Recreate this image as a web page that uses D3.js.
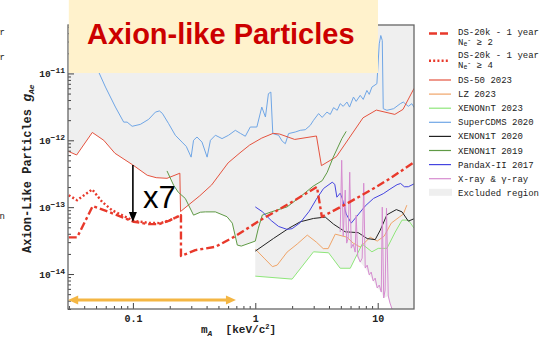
<!DOCTYPE html>
<html>
<head>
<meta charset="utf-8">
<script src="https://cdn.jsdelivr.net/npm/d3@7"></script>
<style>
  body { margin: 0; background: #fff; }
  svg { display: block; font-family: "Liberation Mono", "DejaVu Sans Mono", monospace; }
</style>
</head>
<body>
<svg id="chart" width="539" height="346"></svg>
<script>
// ---- data: [mass keV/c^2, g_Ae] ----
var ds20kNe2 = [[0.0299,3.53e-14],[0.035,3.53e-14],[0.047,1.04e-13],[0.0634,8.5e-14],[0.0869,6.78e-14],
  [0.1016,6.04e-14],[0.1346,5.57e-14],[0.1625,5.57e-14],[0.196,6.25e-14],[0.247,7.6e-14],[0.247,1.86e-14],
  [0.324,2.28e-14],[0.472,2.55e-14],[0.69,3.7e-14],[1.1,6.4e-14],[1.86,1.11e-13],[3.19,2.01e-13],
  [3.5,7.16e-14],[5.6,1.13e-13],[9.24,1.9e-13],[12.6,2.68e-13],[20,4.74e-13]];

var ds20kNe4 = [[0.0299,1.51e-13],[0.035,1.27e-13],[0.0465,1.84e-13],[0.0561,1.2e-13],[0.0676,9.0e-14],
  [0.0869,7.16e-14],[0.1016,6.25e-14],[0.1346,5.83e-14],[0.168,5.77e-14],[0.202,6.4e-14],[0.247,7.6e-14]];

var ds50 = [[0.0296,6.86e-13],[0.0347,6.03e-13],[0.0466,1.31e-12],[0.0578,1.0e-12],[0.0713,6.4e-13],
  [0.1,4.27e-13],[0.131,3.0e-13],[0.155,2.76e-13],[0.19,2.7e-13],[0.242,3.22e-13],[0.245,8.6e-14],
  [0.292,1.12e-13],[0.352,1.48e-13],[0.44,2.15e-13],[0.6,4.6e-13],[0.75,6.5e-13],[0.9,8.5e-13],
  [1.13,1.08e-12],[1.4,1.27e-12],[1.58,1.24e-12],[2.1,1.03e-12],[3.16,1.16e-12],[3.47,4.18e-13],
  [4.6,5.69e-13],[7.59,2.17e-12],[9.75,2.83e-12],[13.8,2.44e-12],[16.1,2.9e-12],[19.8,5.97e-12]];

var lz2023 = [[1.0,2.36e-14],[1.18,1.73e-14],[1.38,1.29e-14],[1.51,1.36e-14],[1.82,2.13e-14],[2.2,2.81e-14],
  [2.66,3.82e-14],[3.15,3.01e-14],[3.59,2.4e-14],[3.94,2.4e-14],[4.5,3.95e-14],[5.6,3.56e-14],[6.31,2.9e-14],
  [7.2,2.53e-14],[8.69,3.56e-14],[9.91,3.11e-14],[11.3,3.69e-14],[12.9,5.77e-14],[15.0,7.1e-14],
  [16.2,7.87e-14],[17.3,1.07e-13]];

var xenonnt2023 = [[1.0,9.3e-15],[2.0,8.4e-15],[2.99,2.15e-14],[3.97,2.08e-14],[4.94,1.22e-14],[5.97,1.22e-14],
  [7.47,2.8e-14],[8.97,2.15e-14],[10.1,2.42e-14],[11.9,2.42e-14],[13.9,4.24e-14],[15.8,6.4e-14],
  [17.8,6.4e-14],[19.9,4.81e-14]];

var supercdms2020 = [[0.045,1.86e-11],[0.0526,1.045e-11],[0.0597,6.25e-12],[0.072,3.14e-12],[0.0841,1.87e-12],
  [0.0897,1.87e-12],[0.0986,1.62e-12],[0.115,1.73e-12],[0.1346,2.06e-12],[0.1527,2.64e-12],[0.1646,2.75e-12],
  [0.174,2.53e-12],[0.196,1.77e-12],[0.222,1.19e-12],[0.252,9.4e-13],[0.273,8.1e-13],[0.299,5.6e-13],
  [0.313,1.0e-12],[0.334,1.12e-12],[0.367,9.4e-13],[0.404,5.6e-13],[0.43,1.0e-12],[0.472,1.19e-12],
  [0.535,1.06e-12],[0.605,1.19e-12],[0.687,1.41e-12],[0.755,1.27e-12],[0.829,1.15e-12],[0.91,1.58e-12],
  [1.03,1.58e-12],[1.13,3.14e-12],[1.21,2.23e-12],[1.28,4.98e-12],[1.34,5.26e-12],[1.39,1.26e-12],
  [1.55,1.19e-12],[1.66,9.7e-13],[1.76,8.9e-13],[1.87,1.26e-12],[2.12,1.33e-12],[2.33,1.41e-12],
  [2.56,1.44e-12],[2.81,1.67e-12],[2.99,1.99e-12],[3.29,2.51e-12],[3.52,2.2e-12],[3.85,2.64e-12],
  [4.1,2.44e-12],[4.36,3.08e-12],[4.67,2.81e-12],[4.94,3.53e-12],[5.23,3.22e-12],[5.61,3.73e-12],
  [5.89,3.14e-12],[6.34,4.43e-12],[6.67,3.82e-12],[7.2,4.7e-12],[7.62,4.09e-12],[8.16,5.57e-12],
  [8.53,4.86e-12],[8.97,6.25e-12],[9.85,7.02e-12],[10.3,2.77e-11],[10.6,3.69e-11],[10.9,3.11e-11],
  [11.1,2.97e-12],[11.9,2.81e-12],[13.5,2.97e-12],[15.3,3.53e-12],[16.2,3.73e-12],[17.8,3.22e-12],
  [19.0,3.53e-12],[19.9,3.08e-12]];

var xenon1t2020 = [[1.0,2.2e-14],[1.41,3.41e-14],[1.87,4.81e-14],[2.33,6.04e-14],[2.99,6.78e-14],[3.73,7.1e-14],
  [4.36,5.57e-14],[5.43,4.28e-14],[6.93,4.16e-14],[8.21,3.39e-14],[9.54,3.27e-14],[10.5,4.54e-14],
  [11.9,7.7e-14],[14.2,9.2e-14],[15.8,8.5e-14],[17.8,6.18e-14],[19.9,6.73e-14]];

var xenon1t2019 = [[0.19,3.48e-13],[0.215,2.13e-13],[0.235,1.67e-13],[0.268,1.35e-13],[0.313,7.6e-14],
  [0.356,8.4e-14],[0.391,8.5e-14],[0.472,8.5e-14],[0.587,7.2e-14],[0.649,5.77e-14],[0.713,2.71e-14],
  [0.769,2.62e-14],[1.0,3.11e-14],[1.06,4.86e-14],[1.14,7.6e-14],[1.35,8.5e-14],[1.82,1.01e-13],
  [2.33,1.43e-13],[2.97,2.06e-13],[3.52,2.49e-13],[3.87,3.33e-13],[4.33,5.57e-13],[5.1,1.06e-12],
  [5.53,1.36e-12]];

var pandax2017 = [[1.0,1.01e-13],[1.14,8.57e-14],[1.35,6.3e-14],[1.55,5.15e-14],[1.82,4.65e-14],[2.0,4.77e-14],
  [2.33,5.87e-14],[2.76,8.7e-14],[3.15,1.31e-13],[3.61,1.9e-13],[4.25,2.36e-13],[4.46,2.2e-13],
  [4.64,1.41e-13],[4.94,1.62e-13],[5.13,1.36e-13],[5.53,7.9e-14],[6.08,5.77e-14],[6.67,7.1e-14],
  [7.9,1.04e-13],[9.24,1.35e-13],[11.1,1.59e-13],[12.6,1.86e-13],[14.4,2.17e-13],[15.4,2.26e-13],
  [16.5,2.02e-13],[17.8,2.02e-13],[19.9,2.24e-13]];

var xrayGamma = [[4.94,4.24e-14],[5.08,5.03e-13],[5.23,3.69e-14],[5.43,1.8e-13],[5.58,2.9e-14],[5.74,3.44e-14],
  [5.91,3.33e-13],[6.08,2.44e-14],[6.31,2.8e-14],[6.55,2.13e-14],[6.67,7.6e-14],[6.87,1.86e-14],
  [7.2,1.51e-14],[7.47,1.73e-14],[7.69,2.28e-13],[7.91,1.23e-14],[8.21,1.36e-14],[8.53,9.7e-15],
  [8.85,1.07e-14],[9.19,7.87e-15],[9.54,8.7e-15],[9.91,6.18e-15],[10.3,6.85e-15],[10.7,5.38e-15],
  [10.9,1.0e-13],[11.2,4.38e-15],[11.5,5.77e-15],[11.8,9.66e-14],[12.2,4.7e-15],[12.6,3.69e-15],
  [13.1,3.0e-15]];

// lower edge of the grey excluded region
var excludedEdge = [[0.0296,6.86e-13],[0.0347,6.03e-13],[0.0466,1.31e-12],[0.0578,1.0e-12],[0.0713,6.4e-13],
  [0.1,4.27e-13],[0.131,3.0e-13],[0.155,2.76e-13],[0.206,2.71e-13],[0.215,2.13e-13],[0.235,1.67e-13],
  [0.245,1.56e-13],[0.245,8.6e-14],[0.284,1.05e-13],[0.313,7.6e-14],[0.356,8.4e-14],[0.391,8.5e-14],
  [0.472,8.5e-14],[0.587,7.2e-14],[0.649,5.77e-14],[0.713,2.71e-14],[0.769,2.62e-14],[1.0,3.11e-14],
  [1.0,9.3e-15],[2.0,8.4e-15],[2.99,2.15e-14],[3.97,2.08e-14],[4.94,1.22e-14],[5.97,1.22e-14],
  [6.67,1.86e-14],[7.2,1.51e-14],[7.91,1.23e-14],[8.53,9.7e-15],[9.19,7.87e-15],[9.91,6.18e-15],
  [10.7,5.38e-15],[11.2,4.38e-15],[12.2,4.7e-15],[12.6,3.69e-15],[13.1,3.0e-15]];

var xMajor = [0.1, 1, 10];
var xTickLabels = ["0.1", "1", "10"];
var yMajor = [1e-14, 1e-13, 1e-12, 1e-11];
var yTickExponents = ["\u221214", "\u221213", "\u221212", "\u221211"];

var legendLabels = ["DS-20k - 1 year", "DS-20k - 1 year", "DS-50 2023", "LZ 2023", "XENONnT 2023",
  "SuperCDMS 2020", "XENON1T 2020", "XENON1T 2019", "PandaX-II 2017", "X-ray & \u03b3-ray", "Excluded region"];
var legendThresholds = ["2", "4"];

// annotations
var arrowMass = 0.1, arrowFrom = 4.27e-13, arrowTo = 6.0e-14, arrowText = "x7";
var rangeMass = [0.0296, 0.695], rangeG = 4.1e-15;

// ---- drawing ----
var W = 539, H = 346;
var plot = { left: 68, right: 414, top: 25, bottom: 309 };

var x = d3.scaleLog().domain([0.0295, 19.8]).range([plot.left, plot.right]);
var y = d3.scaleLog().domain([3e-15, 5.3e-11]).range([plot.bottom, plot.top]);

var colors = {
  ds20k: "#e8392b", ds50: "#e5533f", lz: "#f0a468", xnt: "#8ee67a", cdms: "#6fa6e6",
  x1t20: "#222222", x1t19: "#5f9a45", pandax: "#4545e0", xray: "#d68cd0", excl: "#efefef"
};

var svg = d3.select("#chart");
svg.append("rect").attr("width", W).attr("height", H).attr("fill", "#fff");

svg.append("defs").append("clipPath").attr("id", "clip").append("rect")
  .attr("x", plot.left).attr("y", plot.top)
  .attr("width", plot.right - plot.left).attr("height", plot.bottom - plot.top);

var line = d3.line().x(function(d) { return x(d[0]); }).y(function(d) { return y(d[1]); });
var gPlot = svg.append("g").attr("clip-path", "url(#clip)");

var xd = x.domain(), yd = y.domain();
gPlot.append("path")
  .attr("d", line(excludedEdge.concat([[xd[1], yd[0]], [xd[1], yd[1]], [xd[0], yd[1]]])) + "Z")
  .attr("fill", colors.excl);

var series = [
  { data: supercdms2020, color: colors.cdms, width: 1 },
  { data: ds50, color: colors.ds50, width: 1 },
  { data: xenon1t2019, color: colors.x1t19, width: 1 },
  { data: lz2023, color: colors.lz, width: 1 },
  { data: xenonnt2023, color: colors.xnt, width: 1 },
  { data: xenon1t2020, color: colors.x1t20, width: 1 },
  { data: pandax2017, color: colors.pandax, width: 1 },
  { data: xrayGamma, color: colors.xray, width: 1 },
  { data: ds20kNe4, color: colors.ds20k, width: 2.4, dash: "2,2.2" },
  { data: ds20kNe2, color: colors.ds20k, width: 2.4, dash: "8,3,3,3" }
];

series.forEach(function(s) {
  gPlot.append("path")
    .attr("d", line(s.data))
    .attr("fill", "none")
    .attr("stroke", s.color)
    .attr("stroke-width", s.width)
    .attr("stroke-dasharray", s.dash || null)
    .attr("stroke-linejoin", "round");
});

// axes: ticks point inwards
function isDecade(v) { var l = Math.log10(v); return Math.abs(l - Math.round(l)) < 1e-6; }
var xMinor = x.ticks().filter(function(v) { return !isDecade(v); });
var yMinor = y.ticks().filter(function(v) { return !isDecade(v); });

function styleAxis(g) {
  g.select(".domain").remove();
  g.selectAll("line").attr("stroke", "#444").attr("stroke-width", 1);
  g.selectAll("text").attr("font-family", "Liberation Mono, monospace").attr("font-weight", "bold")
    .attr("fill", "#222");
}

svg.append("g").attr("transform", "translate(0," + plot.bottom + ")")
  .call(d3.axisBottom(x).tickValues(xMinor).tickSize(-3).tickFormat(""))
  .call(styleAxis);
svg.append("g").attr("transform", "translate(0," + plot.bottom + ")")
  .call(d3.axisBottom(x).tickValues(xMajor).tickSize(-6).tickPadding(6)
    .tickFormat(function(d, i) { return xTickLabels[i]; }))
  .call(styleAxis)
  .selectAll("text").attr("font-size", 10);

svg.append("g").attr("transform", "translate(" + plot.left + ",0)")
  .call(d3.axisLeft(y).tickValues(yMinor).tickSize(-3).tickFormat(""))
  .call(styleAxis);
var gy = svg.append("g").attr("transform", "translate(" + plot.left + ",0)")
  .call(d3.axisLeft(y).tickValues(yMajor).tickSize(-6).tickPadding(3)
    .tickFormat(function() { return "10"; }))
  .call(styleAxis);
gy.selectAll(".tick text").attr("font-size", 9.5)
  .each(function(d, i) {
    d3.select(this).append("tspan").attr("dy", "-0.45em").attr("font-size", 8).text(yTickExponents[i]);
  });

// frame
svg.append("rect").attr("x", plot.left).attr("y", plot.top)
  .attr("width", plot.right - plot.left).attr("height", plot.bottom - plot.top)
  .attr("fill", "none").attr("stroke", "#666").attr("stroke-width", 1.3);

// title box (over the plot top), left axis line stays visible
svg.append("rect").attr("x", 68.8).attr("y", 0).attr("width", 378 - 68.8).attr("height", 73)
  .attr("fill", "#fff2cc");
svg.append("text").attr("x", 87).attr("y", 44)
  .attr("font-family", "Liberation Sans, Arial, sans-serif").attr("font-weight", "bold")
  .attr("font-size", 29).attr("fill", "#cc0000").text("Axion-like Particles");

// x7 arrow
var ax = x(arrowMass), ay0 = y(arrowFrom), ay1 = y(arrowTo);
svg.append("line").attr("x1", ax).attr("x2", ax).attr("y1", ay0).attr("y2", ay1 - 8)
  .attr("stroke", "#000").attr("stroke-width", 1.6);
svg.append("path").attr("d", "M" + ax + "," + ay1 + "L" + (ax - 4) + "," + (ay1 - 10) + "L" + (ax + 4) + "," + (ay1 - 10) + "Z")
  .attr("fill", "#000");
svg.append("text").attr("x", ax + 10).attr("y", ay1 - 14)
  .attr("font-family", "Liberation Sans, Arial, sans-serif").attr("font-size", 31).attr("fill", "#000")
  .text(arrowText);

// orange range arrow
var rx0 = x(rangeMass[0]), rx1 = x(rangeMass[1]), ry = y(rangeG), orange = "#f4b643";
svg.append("line").attr("x1", rx0 + 8).attr("x2", rx1 - 8).attr("y1", ry).attr("y2", ry)
  .attr("stroke", orange).attr("stroke-width", 3);
svg.append("path").attr("d", "M" + rx0 + "," + ry + "L" + (rx0 + 10) + "," + (ry - 4.5) + "L" + (rx0 + 10) + "," + (ry + 4.5) + "Z")
  .attr("fill", orange);
svg.append("path").attr("d", "M" + rx1 + "," + ry + "L" + (rx1 - 10) + "," + (ry - 4.5) + "L" + (rx1 - 10) + "," + (ry + 4.5) + "Z")
  .attr("fill", orange);

// axis titles
var xl = svg.append("text").attr("x", 201).attr("y", 333).attr("font-size", 11).attr("font-weight", "bold")
  .attr("fill", "#222");
xl.append("tspan").text("m");
xl.append("tspan").attr("font-size", 8).attr("font-style", "italic").attr("dy", 2.5).text("A");
xl.append("tspan").attr("dy", -2.5).text("\u00a0\u00a0[keV/c");
xl.append("tspan").attr("font-size", 7).attr("dy", -4.5).text("2");
xl.append("tspan").attr("dy", 4.5).text("]");

var yl = svg.append("text").attr("transform", "translate(31,253) rotate(-90)")
  .attr("font-size", 12).attr("font-weight", "bold").attr("fill", "#222");
yl.append("tspan").text("Axion-Like Particles\u00a0");
yl.append("tspan").attr("font-size", 13).attr("font-style", "italic").text("g");
yl.append("tspan").attr("font-size", 8).attr("font-style", "italic").attr("dy", 3).text("Ae");

// legend
var legendStyles = [
  { color: colors.ds20k, width: 2.4, dash: "8,3" },
  { color: colors.ds20k, width: 2.4, dash: "2,2.2" },
  { color: colors.ds50, width: 1.2 },
  { color: colors.lz, width: 1.2 },
  { color: colors.xnt, width: 1.2 },
  { color: colors.cdms, width: 1.2 },
  { color: colors.x1t20, width: 1.2 },
  { color: colors.x1t19, width: 1.2 },
  { color: colors.pandax, width: 1.2 },
  { color: colors.xray, width: 1.2 },
  { area: colors.excl }
];
var lg = svg.append("g").attr("font-size", 9).attr("fill", "#222");
var baseY = [35, 58];
legendLabels.forEach(function(lbl, i) {
  var by = i < 2 ? baseY[i] : 83 + (i - 2) * 14.1;
  var st = legendStyles[i];
  var sy = i === 0 ? by - 1.5 : (i === 1 ? by + 2.7 : by - 3);
  if (st.area) {
    lg.append("rect").attr("x", 429).attr("y", by - 7).attr("width", 23).attr("height", 7).attr("fill", st.area);
  } else {
    lg.append("line").attr("x1", 429).attr("x2", i < 2 ? 448 : 451).attr("y1", sy).attr("y2", sy)
      .attr("stroke", st.color).attr("stroke-width", st.width).attr("stroke-dasharray", st.dash || null);
  }
  lg.append("text").attr("x", 458).attr("y", by).text(lbl);
  if (i < 2) {
    var t = lg.append("text").attr("x", 458).attr("y", by + 9.5);
    t.append("tspan").text("N");
    t.append("tspan").attr("font-size", 6.5).attr("dy", 1.5).text("e");
    t.append("tspan").attr("font-size", 6.5).attr("dy", -4).text("-");
    t.append("tspan").attr("dy", 2.5).text(" \u2265 " + legendThresholds[i]);
  }
});

// cut-off fragments at the left edge (as in the source slide)
var frag = svg.append("g").attr("font-size", 9).attr("fill", "#222").attr("text-anchor", "end");
frag.append("text").attr("x", 5).attr("y", 35).text("year");
frag.append("text").attr("x", 5).attr("y", 60).text("year");
frag.append("text").attr("x", 5).attr("y", 219).text("region");
</script>
</body>
</html>
